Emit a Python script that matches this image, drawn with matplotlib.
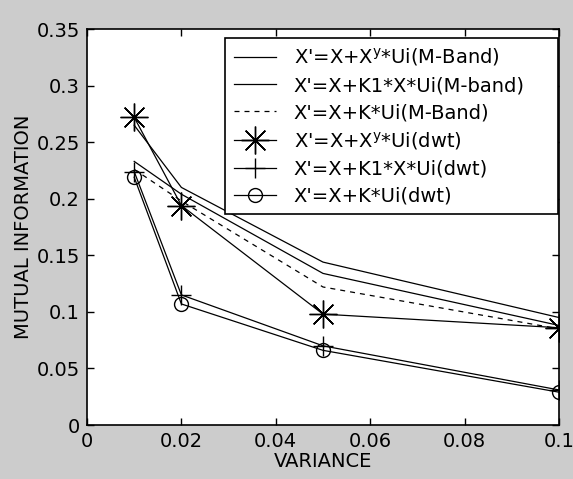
import matplotlib
matplotlib.use("Agg")
import matplotlib.pyplot as plt

# Values
variance = [0.01, 0.02, 0.05, 0.1]
mband_xy = [0.265, 0.210, 0.144, 0.095]
mband_k1x = [0.233, 0.204, 0.134, 0.088]
mband_k = [0.226, 0.198, 0.122, 0.085]
dwt_xy = [0.272, 0.194, 0.098, 0.086]
dwt_k1x = [0.224, 0.115, 0.070, 0.031]
dwt_k = [0.219, 0.107, 0.066, 0.029]

labels = [
    r"X'=X+X$^{\mathrm{y}}$*Ui(M-Band)",
    "X'=X+K1*X*Ui(M-band)",
    "X'=X+K*Ui(M-Band)",
    r"X'=X+X$^{\mathrm{y}}$*Ui(dwt)",
    "X'=X+K1*X*Ui(dwt)",
    "X'=X+K*Ui(dwt)",
]
xticks = [0, 0.02, 0.04, 0.06, 0.08, 0.1]
xtick_labels = ["0", "0.02", "0.04", "0.06", "0.08", "0.1"]
yticks = [0, 0.05, 0.1, 0.15, 0.2, 0.25, 0.3, 0.35]
ytick_labels = ["0", "0.05", "0.1", "0.15", "0.2", "0.25", "0.3", "0.35"]


def main():
    plt.rcParams["font.family"] = ["DejaVu Sans"]
    plt.rcParams["mathtext.fontset"] = "dejavusans"

    fig = plt.figure(figsize=(5.73, 4.79), dpi=100, facecolor="#cccccc")
    ax = fig.add_axes([0.1518, 0.1127, 0.8238, 0.8267])
    ax.set_facecolor("white")

    lw = 0.9
    ax.plot(variance, mband_xy, "k-", lw=lw, label=labels[0])
    ax.plot(variance, mband_k1x, "k-", lw=lw, label=labels[1])
    ax.plot(variance, mband_k, "k--", lw=lw, dashes=(4, 4), label=labels[2])
    ax.plot(variance, dwt_xy, "k-", lw=lw, marker=(8, 2, 0), ms=20,
            mew=1.0, label=labels[3])
    ax.plot(variance, dwt_k1x, "k-", lw=lw, marker="+", ms=14,
            mew=1.0, label=labels[4])
    ax.plot(variance, dwt_k, "k-", lw=lw, marker="o", ms=10, mfc="none",
            mew=1.0, label=labels[5])

    ax.set_xlim(0, 0.1)
    ax.set_ylim(0, 0.35)
    ax.set_xticks(xticks)
    ax.set_xticklabels(xtick_labels)
    ax.set_yticks(yticks)
    ax.set_yticklabels(ytick_labels)
    ax.tick_params(direction="in", length=5, width=1, labelsize=14,
                   top=True, right=True, pad=5, colors="black")
    for sp in ax.spines.values():
        sp.set_linewidth(1.2)

    ax.set_xlabel("VARIANCE", fontsize=14, labelpad=1)
    ax.set_ylabel("MUTUAL INFORMATION", fontsize=14)
    ax.yaxis.set_label_coords(-0.115, 0.5)

    # legend box stretched across the upper right, like the MATLAB original
    leg = ax.legend(loc="upper right", bbox_to_anchor=(0.292, 0.5, 0.706, 0.478),
                    mode="expand", fontsize=14, frameon=True, fancybox=False,
                    framealpha=1, edgecolor="black", handlelength=2.2,
                    labelspacing=0.4, borderpad=0.45, handletextpad=0.9,
                    borderaxespad=0)
    leg.get_frame().set_linewidth(1.2)

    fig.savefig("out.png", dpi=100, facecolor=fig.get_facecolor())


if __name__ == "__main__":
    main()
